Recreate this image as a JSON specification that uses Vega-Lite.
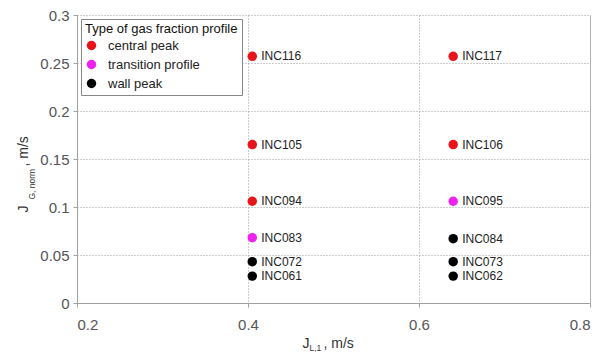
{
  "$schema": "https://vega.github.io/schema/vega-lite/v6.json",
  "width": 513,
  "height": 288,
  "autosize": "none",
  "padding": {"left": 77, "top": 15, "right": 15, "bottom": 49},
  "background": "white",
  "config": {
    "view": {"stroke": null},
    "font": "Liberation Sans",
    "axis": {"labelFont": "Liberation Sans", "titleFont": "Liberation Sans"}
  },
  "data": {
    "values": [
      {"jl": 0.405, "jg": 0.257, "type": "central peak", "label": "INC116"},
      {"jl": 0.405, "jg": 0.165, "type": "central peak", "label": "INC105"},
      {"jl": 0.405, "jg": 0.106, "type": "central peak", "label": "INC094"},
      {"jl": 0.405, "jg": 0.068, "type": "transition profile", "label": "INC083"},
      {"jl": 0.405, "jg": 0.043, "type": "wall peak", "label": "INC072"},
      {"jl": 0.405, "jg": 0.028, "type": "wall peak", "label": "INC061"},
      {"jl": 0.64, "jg": 0.257, "type": "central peak", "label": "INC117"},
      {"jl": 0.64, "jg": 0.165, "type": "central peak", "label": "INC106"},
      {"jl": 0.64, "jg": 0.106, "type": "transition profile", "label": "INC095"},
      {"jl": 0.64, "jg": 0.067, "type": "wall peak", "label": "INC084"},
      {"jl": 0.64, "jg": 0.043, "type": "wall peak", "label": "INC073"},
      {"jl": 0.64, "jg": 0.028, "type": "wall peak", "label": "INC062"}
    ]
  },
  "resolve": {"axis": {"x": "independent", "y": "independent"}},
  "layer": [
    {
      "mark": {"type": "point", "filled": true, "opacity": 1, "size": 90},
      "encoding": {
        "x": {
          "field": "jl", "type": "quantitative",
          "scale": {"domain": [0.2, 0.8], "nice": false, "zero": false},
          "axis": {
            "orient": "bottom",
            "values": [0.2, 0.4, 0.6, 0.8], "format": ".1f",
            "grid": true, "gridColor": "#9a9a9a", "gridDash": [1, 2], "gridWidth": 1,
            "domainColor": "#a0a0a0", "tickColor": "#a0a0a0", "tickSize": 4,
            "labelFontSize": 15, "labelColor": "#555555", "labelPadding": 10,
            "title": "J", "titleFontSize": 14, "titleFontWeight": "normal",
            "titleColor": "#333333", "titleX": 225, "titleY": 44,
            "titleAlign": "left", "titleBaseline": "alphabetic", "titleAnchor": null
          }
        },
        "y": {
          "field": "jg", "type": "quantitative",
          "scale": {"domain": [0, 0.3], "nice": false},
          "axis": {
            "orient": "left",
            "values": [0, 0.05, 0.1, 0.15, 0.2, 0.25, 0.3], "format": ".2~f",
            "grid": true, "gridColor": "#9a9a9a", "gridDash": [1, 2], "gridWidth": 1,
            "domainColor": "#a0a0a0", "tickColor": "#a0a0a0", "tickSize": 4,
            "labelFontSize": 15, "labelColor": "#555555", "labelPadding": 4,
            "title": "J", "titleFontSize": 14, "titleFontWeight": "normal",
            "titleColor": "#333333", "titleX": -50, "titleY": 197, "titleAngle": 270,
            "titleAlign": "left", "titleBaseline": "alphabetic", "titleAnchor": null
          }
        },
        "color": {
          "field": "type", "type": "nominal",
          "scale": {"domain": ["central peak", "transition profile", "wall peak"], "range": ["#e8141c", "#ee22ee", "#000000"]},
          "legend": {
            "title": "Type of gas fraction profile",
            "orient": "top-left", "offset": 4,
            "titleFontSize": 13, "titleFontWeight": "normal", "titleColor": "#111111", "titleFont": "Liberation Sans",
            "labelFontSize": 13, "labelColor": "#222222", "labelFont": "Liberation Sans",
            "symbolType": "circle", "symbolSize": 90, "symbolStrokeWidth": 0,
            "labelOffset": 10, "rowPadding": 5, "titlePadding": 3,
            "padding": 4, "strokeColor": "#888888", "fillColor": "white", "cornerRadius": 0
          }
        }
      }
    },
    {
      "mark": {"type": "text", "align": "left", "baseline": "middle", "dx": 9, "fontSize": 12, "color": "#222222", "font": "Liberation Sans"},
      "encoding": {
        "x": {
          "field": "jl", "type": "quantitative",
          "axis": {
            "orient": "top", "labels": false, "ticks": false, "domain": false, "grid": false,
            "title": "L,1", "titleFontSize": 8.5, "titleFontWeight": "normal", "titleColor": "#333333",
            "titleX": 232, "titleY": 335, "titleAlign": "left", "titleBaseline": "alphabetic", "titleAnchor": null
          }
        },
        "y": {
          "field": "jg", "type": "quantitative",
          "axis": {
            "orient": "right", "labels": false, "ticks": false, "domain": true, "domainColor": "#b0b0b0", "grid": false,
            "title": "G, norm", "titleFontSize": 8.5, "titleFontWeight": "normal", "titleColor": "#333333",
            "titleX": -556, "titleY": 184, "titleAngle": 270,
            "titleAlign": "left", "titleBaseline": "alphabetic", "titleAnchor": null
          }
        },
        "text": {"field": "label"}
      }
    },
    {
      "mark": {"type": "point", "opacity": 0},
      "encoding": {
        "x": {
          "field": "jl", "type": "quantitative",
          "axis": {
            "orient": "bottom", "labels": false, "ticks": false, "domain": false, "grid": false,
            "title": ", m/s", "titleFontSize": 14, "titleFontWeight": "normal", "titleColor": "#333333",
            "titleX": 246, "titleY": 44, "titleAlign": "left", "titleBaseline": "alphabetic", "titleAnchor": null
          }
        },
        "y": {
          "field": "jg", "type": "quantitative",
          "axis": {
            "orient": "left", "labels": false, "ticks": false, "domain": false, "grid": false,
            "title": ", m/s", "titleFontSize": 14, "titleFontWeight": "normal", "titleColor": "#333333",
            "titleX": -50, "titleY": 151, "titleAngle": 270,
            "titleAlign": "left", "titleBaseline": "alphabetic", "titleAnchor": null
          }
        }
      }
    }
  ]
}
